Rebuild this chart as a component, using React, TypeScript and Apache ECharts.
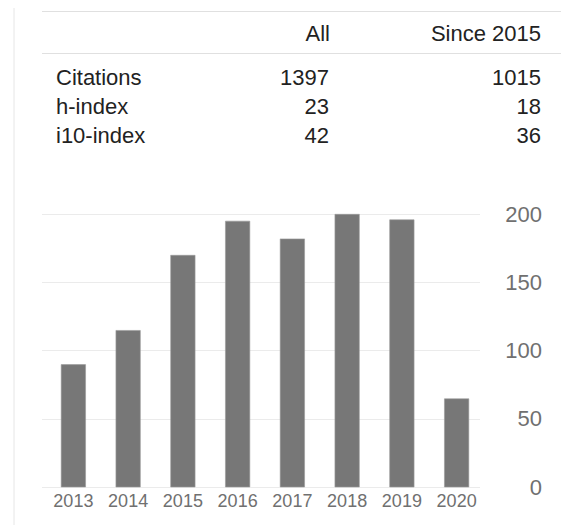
import React, { useEffect, useRef } from "react";
import * as echarts from "echarts";

const years = ["2013", "2014", "2015", "2016", "2017", "2018", "2019", "2020"];
const citations = [90, 115, 170, 195, 182, 200, 196, 65];
const yTicks = { min: 0, max: 200, interval: 50 };

const tableHeaders = ["All", "Since 2015"];
const rowLabels = ["Citations", "h-index", "i10-index"];
const allValues = ["1397", "23", "42"];
const sinceValues = ["1015", "18", "36"];

const FONT = "'Liberation Sans', Arial, Helvetica, sans-serif";

export default function App() {
  const ref = useRef<HTMLDivElement>(null);
  useEffect(() => {
    if (!ref.current) return;
    const chart = echarts.init(ref.current, null, { renderer: "svg" });
    const rowY = [77, 106, 135];
    const graphics: any[] = [
      { type: "line", shape: { x1: 14, y1: 8, x2: 14, y2: 525 }, style: { stroke: "#e6e6e6", lineWidth: 1 }, silent: true },
      { type: "line", shape: { x1: 42, y1: 11.5, x2: 561, y2: 11.5 }, style: { stroke: "#e0e0e0", lineWidth: 1 }, silent: true },
      { type: "line", shape: { x1: 42, y1: 53.5, x2: 561, y2: 53.5 }, style: { stroke: "#e0e0e0", lineWidth: 1 }, silent: true },
      { type: "text", x: 330, y: 33, style: { text: tableHeaders[0], fill: "#222", font: `22px ${FONT}`, align: "right", verticalAlign: "middle" } },
      { type: "text", x: 541, y: 33, style: { text: tableHeaders[1], fill: "#222", font: `22px ${FONT}`, align: "right", verticalAlign: "middle" } },
    ];
    rowLabels.forEach((lab, i) => {
      graphics.push({ type: "text", x: 56, y: rowY[i], style: { text: lab, fill: "#222", font: `22px ${FONT}`, align: "left", verticalAlign: "middle" } });
      graphics.push({ type: "text", x: 329, y: rowY[i], style: { text: allValues[i], fill: "#222", font: `22px ${FONT}`, align: "right", verticalAlign: "middle" } });
      graphics.push({ type: "text", x: 541, y: rowY[i], style: { text: sinceValues[i], fill: "#222", font: `22px ${FONT}`, align: "right", verticalAlign: "middle" } });
    });

    chart.setOption({
      animation: false,
      textStyle: { fontFamily: FONT },
      grid: [
        { left: 42, right: 81, top: 214, bottom: 37.7 },
        { left: 46, right: 77, top: 214, bottom: 37.7 },
      ],
      xAxis: [
        { gridIndex: 0, type: "value", show: false, min: 0, max: 1 },
        {
          gridIndex: 1,
          type: "category",
          data: years,
          axisLine: { show: false },
          axisTick: { show: false },
          axisLabel: { color: "#707070", fontSize: 18, margin: 5, fontFamily: FONT },
        },
      ],
      yAxis: [
        {
          gridIndex: 0,
          type: "value",
          position: "right",
          min: yTicks.min,
          max: yTicks.max,
          interval: yTicks.interval,
          axisLine: { show: false },
          axisTick: { show: false },
          splitLine: { lineStyle: { color: "#ebebeb", width: 1 } },
          axisLabel: { color: "#707070", fontSize: 22, align: "right", margin: 62, fontFamily: FONT },
        },
        {
          gridIndex: 1,
          type: "value",
          min: yTicks.min,
          max: yTicks.max,
          interval: yTicks.interval,
          show: false,
          splitLine: { show: false },
        },
      ],
      series: [
        {
          type: "bar",
          xAxisIndex: 1,
          yAxisIndex: 1,
          data: citations,
          barWidth: 25,
          itemStyle: { color: "#777777", borderColor: "#9a9a9a", borderWidth: 0.6 },
        },
      ],
      graphic: graphics,
    });
    return () => chart.dispose();
  }, []);
  return <div ref={ref} style={{ width: 561, height: 525, position: "absolute", left: 0, top: 0 }} />;
}
